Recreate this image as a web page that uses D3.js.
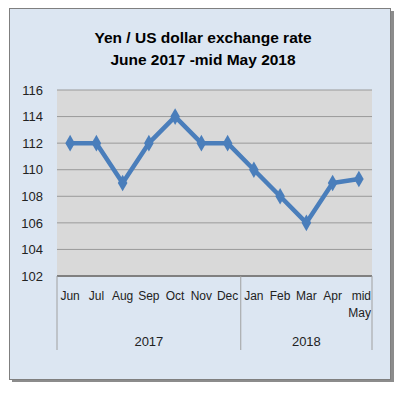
<!DOCTYPE html>
<html><head><meta charset="utf-8">
<script src="https://cdn.jsdelivr.net/npm/d3@7"></script>
<style>body{margin:0;background:#fff}svg{display:block}</style>
</head><body><svg id="c" width="407" height="394"></svg>
<script>
const months = ["Jun","Jul","Aug","Sep","Oct","Nov","Dec","Jan","Feb","Mar","Apr","mid May"];
const years = [{label:"2017", start:0, end:7},{label:"2018", start:7, end:12}];
const rates = [112,112,109,112,114,112,112,110,108,106,109,109.3];
const yTicks = [102,104,106,108,110,112,114,116];
const titleLines = ["Yen / US dollar exchange rate","June 2017 -mid May 2018"];

const svg = d3.select("#c");
const font = "'Liberation Sans', Arial, sans-serif";
// outer box with shadow
svg.append("rect").attr("x",12).attr("y",11).attr("width",382).attr("height",371).attr("fill","#8c8c8c");
svg.append("rect").attr("x",9.5).attr("y",8.5).attr("width",381).attr("height",371).attr("fill","#dce6f2").attr("stroke","#7f7f7f").attr("stroke-width",1);

svg.selectAll("text.title").data(titleLines).join("text").attr("class","title")
  .attr("x",203).attr("y",(d,i)=>43+i*22).attr("text-anchor","middle")
  .attr("font-family",font).attr("font-weight","bold").attr("font-size",15.5).attr("fill","#000").text(d=>d);

const L=57, R=372, T=90, B=276;
const x = d3.scaleBand().domain(months).range([L,R]);
const y = d3.scaleLinear().domain([102,116]).range([B,T]);

svg.append("rect").attr("x",L).attr("y",T).attr("width",R-L).attr("height",B-T).attr("fill","#d9d9d9");
svg.selectAll("line.grid").data(yTicks.filter(d=>d>102)).join("line").attr("class","grid")
  .attr("x1",L).attr("x2",R).attr("y1",d=>y(d)).attr("y2",d=>y(d)).attr("stroke","#9a9a9a").attr("stroke-width",1);

const yAxis = svg.append("g").attr("transform",`translate(${L},0)`).call(d3.axisLeft(y).tickValues(yTicks).tickSize(0).tickPadding(14));
yAxis.select(".domain").remove();
yAxis.selectAll("text").attr("font-family",font).attr("font-size",13).attr("fill","#222");

svg.append("line").attr("x1",L).attr("x2",R).attr("y1",B).attr("y2",B).attr("stroke","#808080").attr("stroke-width",2);

// category labels
const xl = svg.append("g");
months.forEach(m=>{
  const cx = x(m)+x.bandwidth()/2;
  const parts = m.split(" ");
  if(parts.length>1){
    xl.append("text").attr("x",x(m)+x.bandwidth()-1).attr("y",300).attr("text-anchor","end").text(parts[0]);
    xl.append("text").attr("x",x(m)+x.bandwidth()-1).attr("y",317).attr("text-anchor","end").text(parts[1]);
  } else {
    xl.append("text").attr("x",cx).attr("y",300).attr("text-anchor","middle").text(m);
  }
});
xl.selectAll("text").attr("font-family",font).attr("font-size",12).attr("fill","#222");

// year separators and labels
const seps = [0, 7, 12];
svg.selectAll("line.sep").data(seps).join("line").attr("class","sep")
  .attr("x1",d=>d<12?x(months[d]):R).attr("x2",d=>d<12?x(months[d]):R)
  .attr("y1",B).attr("y2",350).attr("stroke","#a0a0a0").attr("stroke-width",1);
svg.selectAll("text.year").data(years).join("text").attr("class","year")
  .attr("x",d=>(x(months[d.start]) + (d.end<12?x(months[d.end]):R))/2).attr("y",346)
  .attr("text-anchor","middle").attr("font-family",font).attr("font-size",13).attr("fill","#222").text(d=>d.label);

// line
const line = d3.line().x((d,i)=>x(months[i])+x.bandwidth()/2).y(d=>y(d));
svg.append("path").datum(rates).attr("d",line).attr("fill","none").attr("stroke","#4a7ebb").attr("stroke-width",4.5).attr("stroke-linejoin","round");
svg.selectAll("path.mk").data(rates).join("path").attr("class","mk")
  .attr("d",d3.symbol().type(d3.symbolDiamond).size(80))
  .attr("transform",(d,i)=>`translate(${x(months[i])+x.bandwidth()/2},${y(d)})`).attr("fill","#4a7ebb");
</script></body></html>
